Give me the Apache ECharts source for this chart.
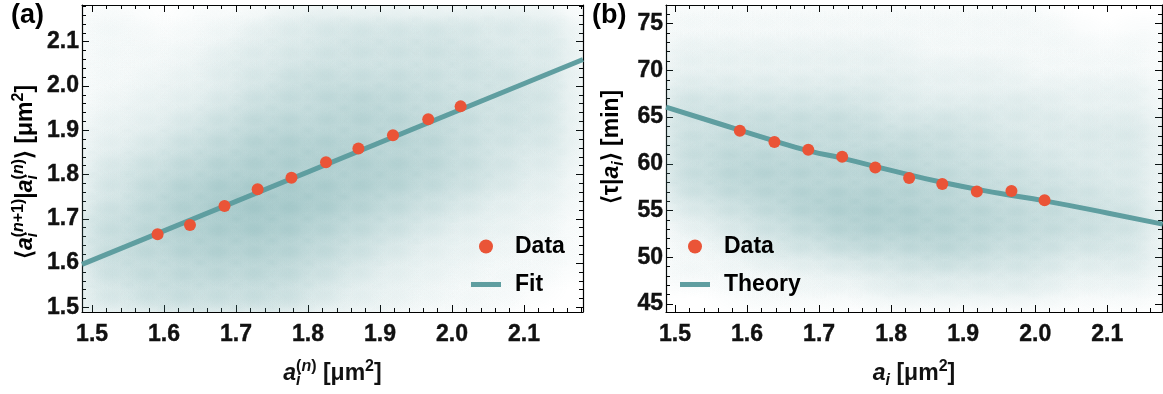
<!DOCTYPE html>
<html>
<head>
<meta charset="utf-8">
<script src="https://cdn.jsdelivr.net/npm/echarts@6/dist/echarts.min.js"></script>
<style>
  html, body { margin: 0; padding: 0; background: #fff; }
  #chart { width: 1163px; height: 394px; }
</style>
</head>
<body>
<div id="chart"></div>
<script>
// ---- panel (a): next-generation size vs current size ----
const xTicks = [1.5, 1.6, 1.7, 1.8, 1.9, 2.0, 2.1];
const yTicksA = [1.5, 1.6, 1.7, 1.8, 1.9, 2.0, 2.1];
const xDataA = [1.591, 1.636, 1.684, 1.730, 1.777, 1.825, 1.870, 1.918, 1.967, 2.012];
const yDataA = [1.665, 1.686, 1.729, 1.767, 1.793, 1.828, 1.859, 1.889, 1.925, 1.954];
const fitX = [1.486, 2.182];
const fitY = [1.597, 2.060];

// ---- panel (b): mean cycle time vs size ----
const yTicksB = [45, 50, 55, 60, 65, 70, 75];
const xDataB = [1.590, 1.638, 1.685, 1.732, 1.778, 1.825, 1.871, 1.919, 1.967, 2.013];
const yDataB = [63.55, 62.35, 61.5, 60.75, 59.6, 58.5, 57.85, 57.05, 57.1, 56.1];
const theoryX = [1.4875, 1.557, 1.63, 1.687, 1.733, 1.80, 1.872, 1.95, 2.013, 2.10, 2.177];
const theoryY = [66.07, 64.40, 62.65, 61.37, 60.59, 59.30, 58.00, 56.85, 56.04, 54.75, 53.55];

const cloudX = [1.50, 1.55, 1.60, 1.65, 1.70, 1.75, 1.80, 1.85, 1.90, 1.95, 2.00, 2.05, 2.10, 2.15];
const cloudYA = [2.15, 2.10, 2.05, 2.00, 1.95, 1.90, 1.85, 1.80, 1.75, 1.70, 1.65, 1.60, 1.55, 1.50];
const cloudA = [
  [1, 1, 0, 1, 1, 2, 3, 3, 3, 3, 3, 3, 3, 2],
  [1, 1, 1, 1, 2, 3, 3, 4, 4, 4, 4, 3, 3, 3],
  [1, 1, 1, 2, 3, 3, 4, 4, 4, 4, 4, 4, 3, 3],
  [1, 1, 2, 2, 3, 4, 5, 5, 5, 5, 4, 4, 4, 3],
  [1, 2, 2, 3, 4, 5, 5, 6, 6, 5, 5, 4, 4, 3],
  [2, 2, 3, 4, 5, 6, 6, 6, 6, 6, 5, 4, 4, 3],
  [2, 3, 4, 5, 6, 7, 7, 7, 6, 6, 5, 4, 3, 3],
  [3, 4, 5, 6, 7, 7, 7, 7, 7, 6, 5, 4, 3, 2],
  [3, 4, 6, 7, 8, 8, 8, 7, 6, 5, 4, 3, 2, 2],
  [4, 5, 6, 7, 8, 8, 7, 6, 5, 4, 3, 2, 2, 1],
  [4, 5, 6, 7, 7, 7, 6, 5, 4, 3, 2, 2, 1, 1],
  [4, 5, 5, 6, 6, 6, 5, 4, 3, 2, 2, 1, 1, 1],
  [3, 4, 5, 5, 5, 5, 4, 3, 2, 2, 1, 1, 1, 0],
  [3, 3, 4, 4, 4, 4, 3, 2, 2, 1, 1, 1, 0, 0]
];
const cloudYB = [76, 74, 72, 70, 68, 66, 64, 62, 60, 58, 56, 54, 52, 50, 48, 46];
const cloudB = [
  [1, 1, 1, 1, 1, 1, 1, 1, 1, 1, 1, 0, 0, 0],
  [1, 1, 1, 1, 1, 1, 1, 1, 1, 1, 1, 1, 0, 1],
  [2, 2, 2, 2, 2, 2, 2, 1, 1, 1, 1, 1, 1, 1],
  [2, 2, 2, 2, 2, 2, 2, 2, 2, 2, 1, 1, 1, 1],
  [3, 3, 3, 3, 3, 3, 3, 2, 2, 2, 2, 2, 2, 2],
  [4, 4, 4, 4, 4, 4, 3, 3, 3, 3, 3, 2, 2, 2],
  [4, 4, 5, 5, 5, 5, 4, 4, 4, 3, 3, 3, 3, 3],
  [4, 5, 5, 5, 5, 5, 5, 5, 4, 4, 3, 3, 3, 3],
  [4, 5, 6, 6, 6, 6, 6, 5, 5, 4, 4, 3, 3, 3],
  [4, 5, 6, 6, 6, 6, 6, 6, 5, 5, 4, 4, 3, 3],
  [3, 4, 5, 6, 7, 7, 7, 6, 6, 5, 5, 4, 4, 3],
  [2, 3, 4, 5, 6, 7, 7, 7, 6, 6, 5, 5, 4, 4],
  [1, 2, 3, 4, 5, 6, 6, 6, 6, 5, 5, 4, 4, 3],
  [1, 1, 2, 3, 3, 4, 4, 5, 5, 4, 4, 3, 3, 3],
  [1, 1, 1, 1, 2, 2, 3, 3, 3, 3, 3, 2, 2, 2],
  [0, 0, 1, 1, 1, 1, 2, 2, 2, 2, 2, 1, 1, 1]
];

const FONT = '"Liberation Sans", Arial, sans-serif';
const INK = '#111';
const RED = '#ea5437';
const TEAL = '#5f9ea0';

const zip = (xs, ys) => xs.map((x, i) => [x, ys[i]]);

function cells(xs, ys, grid) {
  const out = [];
  ys.forEach((y, r) => xs.forEach((x, c) => {
    if (grid[r][c] > 0) out.push([x, y, grid[r][c]]);
  }));
  return out;
}

function steps(from, to, step) {
  const out = [];
  for (let v = from; v <= to + 1e-9; v += step) out.push(+v.toFixed(4));
  return out;
}

// soft round blob per density cell, stretched to the cell's aspect
function blob(dx, dy) {
  return function (params, api) {
    const c = api.coord([api.value(0), api.value(1)]);
    const s = api.size([dx, dy]);
    const a = Math.min(0.9, 0.038 * Math.pow(api.value(2), 1.1));
    return {
      type: 'circle',
      x: c[0],
      y: c[1],
      scaleY: s[1] / s[0],
      shape: { cx: 0, cy: 0, r: s[0] * 1.25 },
      style: {
        fill: new echarts.graphic.RadialGradient(0.5, 0.5, 0.5, [
          { offset: 0, color: 'rgba(95,158,160,' + a + ')' },
          { offset: 0.5, color: 'rgba(95,158,160,' + a * 0.6 + ')' },
          { offset: 1, color: 'rgba(95,158,160,0)' }
        ])
      }
    };
  };
}

const nameRich = {
  b: { fontSize: 23, fontWeight: 'bold', fontFamily: FONT, color: INK, lineHeight: 30, verticalAlign: 'middle', align: 'left' },
  i: { fontSize: 23, fontWeight: 'bold', fontStyle: 'italic', fontFamily: FONT, color: INK, lineHeight: 30, verticalAlign: 'middle', align: 'left' },
  sub0: { fontSize: 16, fontWeight: 'bold', fontStyle: 'italic', fontFamily: FONT, color: INK, lineHeight: 14, verticalAlign: 'bottom', align: 'left', width: 0 },
  sub: { fontSize: 16, fontWeight: 'bold', fontStyle: 'italic', fontFamily: FONT, color: INK, lineHeight: 14, verticalAlign: 'bottom', align: 'left' },
  sup: { fontSize: 16, fontWeight: 'bold', fontFamily: FONT, color: INK, lineHeight: 14, verticalAlign: 'top', align: 'left' },
  supi: { fontSize: 16, fontWeight: 'bold', fontStyle: 'italic', fontFamily: FONT, color: INK, lineHeight: 14, verticalAlign: 'top', align: 'left' }
};

// four framed sides per dimension: major + minor ticks, pointing inward
function frameAxes(dim, grid, min, max, major, minor, label, name) {
  const sides = dim === 'x' ? ['bottom', 'top'] : ['left', 'right'];
  const base = { type: 'value', gridIndex: grid, min: min, max: max, splitLine: { show: false } };
  const out = [];
  sides.forEach((pos, k) => {
    out.push(Object.assign({}, base, k === 0 ? name : {}, {
      position: pos,
      axisLine: { show: true, onZero: false, lineStyle: { color: '#000', width: 1.2 } },
      axisTick: { show: true, inside: true, length: 7, customValues: major, lineStyle: { color: '#000', width: 1 } },
      axisLabel: k === 0 ? Object.assign({ customValues: major }, label) : { show: false }
    }));
    out.push(Object.assign({}, base, {
      position: pos,
      axisLine: { show: false, onZero: false },
      axisTick: { show: true, inside: true, length: 4, customValues: minor, lineStyle: { color: '#000', width: 1 } },
      axisLabel: { show: false }
    }));
  });
  return out;
}

const tickFont = { fontSize: 23, fontWeight: 'bold', fontFamily: FONT, color: INK, textBorderColor: INK, textBorderWidth: 0.4 };
const xLabel = Object.assign({ margin: 11, formatter: (v) => v.toFixed(1) }, tickFont);
const yLabelA = Object.assign({ margin: 3, formatter: (v) => v.toFixed(1) }, tickFont);
const yLabelB = Object.assign({ margin: 3, formatter: (v) => String(Math.round(v)) }, tickFont);

const xMinor = steps(1.5, 2.18, 0.02);
const yMinorA = steps(1.5, 2.18, 0.02);
const yMinorB = steps(45, 77, 1);

const xAxis = [].concat(
  frameAxes('x', 0, 1.486, 2.182, xTicks, xMinor, xLabel, {
    name: '{i|a}{sub0|i}{sup|(}{supi|n}{sup|)}{b| [μm}{sup|2}{b|]}',
    nameLocation: 'middle', nameGap: 47, nameTextStyle: { rich: nameRich }
  }),
  frameAxes('x', 1, 1.4875, 2.176, xTicks, xMinor, xLabel, {
    name: '{i|a}{sub|i}{b| [μm}{sup|2}{b|]}',
    nameLocation: 'middle', nameGap: 47, nameTextStyle: { rich: nameRich }
  })
);
const yAxis = [].concat(
  frameAxes('y', 0, 1.4895, 2.183, yTicksA, yMinorA, yLabelA, {}),
  frameAxes('y', 1, 44.15, 77.0, yTicksB, yMinorB, yLabelB, {})
);

// rotated y titles, centred where the reference puts them
function yTitle(x, y, text) {
  return {
    type: 'text', x: x, y: y, rotation: Math.PI / 2, silent: true,
    style: { text: text, rich: nameRich, align: 'center', verticalAlign: 'middle' }
  };
}

const LINE_ICON = 'path://M0 0H30V5H0Z';
function legendAt(left, lineName) {
  return {
    left: left, top: 235, orient: 'vertical', padding: 0, itemGap: 15,
    itemWidth: 30, itemHeight: 14, selectedMode: false,
    data: [
      { name: 'Data', icon: 'circle', itemStyle: { borderWidth: 0 } },
      { name: lineName, icon: LINE_ICON, itemStyle: { borderWidth: 0 } }
    ],
    formatter: '{t|{name}}',
    textStyle: {
      rich: { t: { fontSize: 23, fontWeight: 'bold', fontFamily: FONT, color: '#000', lineHeight: 24, padding: [0, 0, 0, 9] } }
    }
  };
}

const option = {
  animation: false,
  grid: [
    { left: 82, top: 5, width: 501, height: 309 },
    { left: 666, top: 5, width: 496, height: 309 }
  ],
  xAxis: xAxis,
  yAxis: yAxis,
  legend: [legendAt(471, 'Fit'), legendAt(680, 'Theory')],
  graphic: [
    { type: 'text', left: 11, top: 2, style: { text: '(a)', font: 'bold 27px ' + FONT, fill: '#000' } },
    { type: 'text', left: 592, top: 2, style: { text: '(b)', font: 'bold 27px ' + FONT, fill: '#000' } },
    yTitle(26, 172, '{b|⟨}{i|a}{sub0|i}{sup|(}{supi|n}{sup|+1)}{b||}{i|a}{sub0|i}{sup|(}{supi|n}{sup|)}{b|⟩ [μm}{sup|2}{b|]}'),
    yTitle(612, 147, '{b|⟨τ|}{i|a}{sub|i}{b|⟩ [min]}')
  ],
  series: [
    {
      type: 'custom', name: 'cloudA', xAxisIndex: 0, yAxisIndex: 0, clip: true, silent: true, z: 1,
      renderItem: blob(0.05, 0.05), data: cells(cloudX, cloudYA, cloudA)
    },
    {
      type: 'line', name: 'Fit', xAxisIndex: 0, yAxisIndex: 0, z: 2, silent: true,
      symbol: 'none', data: zip(fitX, fitY),
      lineStyle: { color: TEAL, width: 5 }, itemStyle: { color: TEAL }
    },
    {
      type: 'scatter', name: 'Data', xAxisIndex: 0, yAxisIndex: 0, z: 3,
      symbolSize: 12, data: zip(xDataA, yDataA), itemStyle: { color: RED, opacity: 1 }
    },
    {
      type: 'custom', name: 'cloudB', xAxisIndex: 4, yAxisIndex: 4, clip: true, silent: true, z: 1,
      renderItem: blob(0.05, 2), data: cells(cloudX, cloudYB, cloudB)
    },
    {
      type: 'line', name: 'Theory', xAxisIndex: 4, yAxisIndex: 4, z: 2, silent: true,
      symbol: 'none', smooth: true, data: zip(theoryX, theoryY),
      lineStyle: { color: TEAL, width: 5 }, itemStyle: { color: TEAL }
    },
    {
      type: 'scatter', name: 'Data', xAxisIndex: 4, yAxisIndex: 4, z: 3,
      symbolSize: 12, data: zip(xDataB, yDataB), itemStyle: { color: RED, opacity: 1 }
    }
  ]
};

const chart = echarts.init(document.getElementById('chart'), null, { renderer: 'canvas' });
chart.setOption(option);
</script>
</body>
</html>
